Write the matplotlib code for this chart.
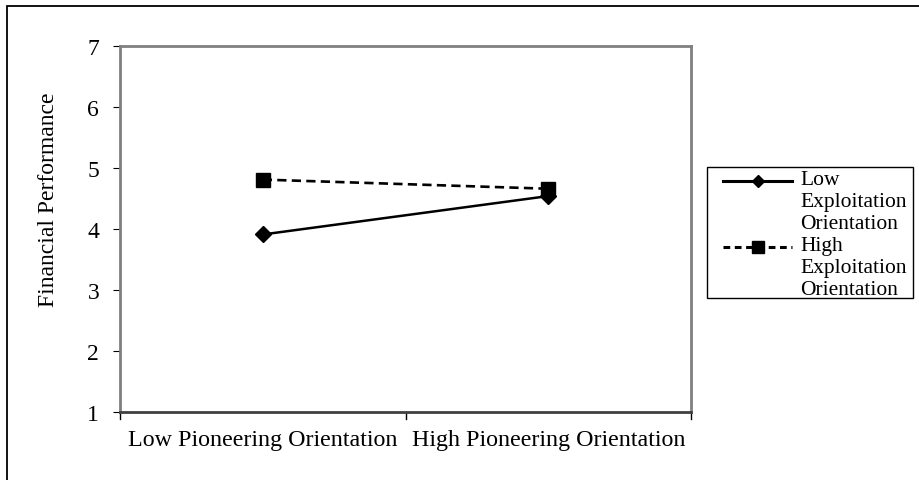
import matplotlib.pyplot as plt
from matplotlib.patches import Rectangle
from matplotlib.lines import Line2D

# Données
categories = ['Low Pioneering Orientation', 'High Pioneering Orientation']
low_exploitation = [3.91, 4.54]
high_exploitation = [4.81, 4.66]
series_labels = ['Low\nExploitation\nOrientation', 'High\nExploitation\nOrientation']

plt.rcParams['font.family'] = ['Liberation Serif', 'DejaVu Serif']

W, H = 919, 481
fig = plt.figure(figsize=(W / 100, H / 100), dpi=100)


# Conversion pixels -> coordonnées figure
def fx(px):
    return px / W


def fy(py):
    return 1 - py / H


# Cadre extérieur (ouvert en bas et à droite, comme sur l'original)
fig.add_artist(Rectangle((fx(7), -0.1), 1.2, 1.1 - 7 / H, transform=fig.transFigure,
                         fill=False, edgecolor='black', linewidth=1.3))

ax = fig.add_axes([fx(120), fy(413), (691 - 120) / W, (413 - 47) / H])

x = [0.5, 1.5]
styles = [dict(linestyle='-', marker='D', markersize=8),
          dict(linestyle=(0, (3.5, 2)), marker='s', markersize=10.5)]
ax.plot(x, low_exploitation, color='black', linewidth=1.8, **styles[0])
ax.plot(x, high_exploitation, color='black', linewidth=1.9, **styles[1])

ax.set_xlim(0, 2)
ax.set_ylim(1, 7)
ax.set_yticks(range(1, 8))
ax.set_xticks([0, 1, 2])
ax.set_xticklabels([])
ax.set_xticks(x, minor=True)
ax.set_xticklabels(categories, minor=True, fontsize=17.3)
ax.tick_params(axis='x', which='minor', length=0, pad=12)
ax.tick_params(axis='x', which='major', length=0)
ax.tick_params(axis='y', labelsize=17, direction='out', length=5, pad=10)

# Graduations de l'axe X vers le bas
for xv in [0, 1, 2]:
    ax.plot([xv, xv], [1, 1 - 0.12], color='black', linewidth=1, clip_on=False)

for side in ['left', 'right', 'top', 'bottom']:
    ax.spines[side].set_color('#808080')
    ax.spines[side].set_linewidth(2)
ax.spines['bottom'].set_color('#404040')

fig.text(fx(49), fy(200), 'Financial Performance', rotation=90,
         ha='center', va='center', fontsize=17)

# Légende dessinée à la main pour garder le symbole sur la première ligne
fig.add_artist(Rectangle((fx(707), fy(299)), (913 - 707) / W, (299 - 168) / H,
                         transform=fig.transFigure, fill=False,
                         edgecolor='black', linewidth=1))
legend_sizes = [6, 8]
legend_styles = ['-', (0, (2.2, 1.5))]
for i, lab in enumerate(series_labels):
    y0 = 181.5 + i * 66
    fig.add_artist(Line2D([fx(723), fx(792)], [fy(y0), fy(y0)],
                          transform=fig.transFigure, color='black', linewidth=2.2,
                          linestyle=legend_styles[i]))
    # marqueur au centre du segment
    fig.add_artist(Line2D([fx(757.5)], [fy(y0)], transform=fig.transFigure,
                          color='black', linestyle='none',
                          marker=styles[i]['marker'], markersize=legend_sizes[i]))
    for j, line in enumerate(lab.split('\n')):
        fig.text(fx(800), fy(185 + i * 66 + j * 22), line, ha='left',
                 va='baseline', fontsize=15.5)

fig.savefig('out.png', dpi=100)
